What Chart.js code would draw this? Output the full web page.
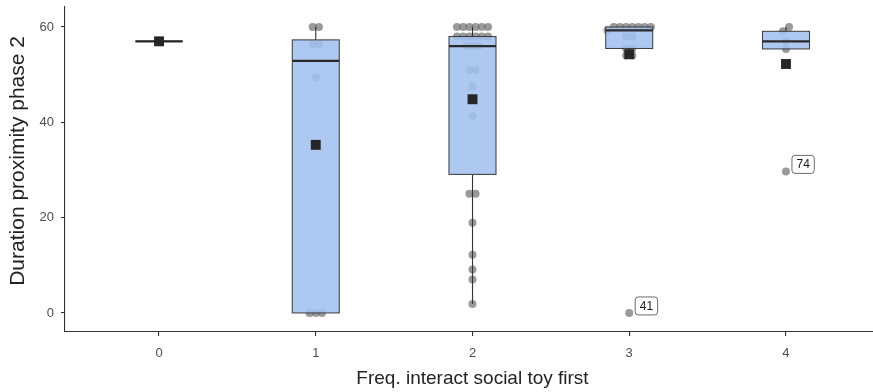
<!DOCTYPE html>
<html>
<head>
<meta charset="utf-8">
<script src="https://cdn.jsdelivr.net/npm/chart.js@4.4.1/dist/chart.umd.min.js"></script>
<style>
  html, body { margin: 0; padding: 0; background: #ffffff; overflow: hidden; }
  #wrap { position: relative; width: 873px; height: 392px; overflow: hidden; }
  #chart { position: absolute; left: 0; top: 0; }
</style>
</head>
<body>
<div id="wrap"><canvas id="chart" width="887" height="392"></canvas></div>
<script>
// Categories on the x axis
const categories = [0, 1, 2, 3, 4];

// Observations per category (duration proximity, phase 2)
const group0 = [57];
const group1 = [0, 0, 0, 49.4, 56.4, 56.4, 60, 60];
const group2 = [1.9, 7.0, 9.1, 12.2, 18.9, 25, 25, 41.3, 47.5, 51, 51, 56, 56, 56,
                58, 58, 58, 58, 58, 58, 60, 60, 60, 60, 60, 60];
const group3 = [0, 54, 54, 55.5, 55.5, 58, 58, 59.3, 60, 60, 60, 60, 60, 60, 60];
const group4 = [29.7, 55.4, 57, 59.1, 60];

// Tick labels
const xTicks = [0, 1, 2, 3, 4];
const yTicks = [0, 20, 40, 60];

// Labelled outliers
const labelCategories = [3, 4];
const labelValues = [0, 29.7];
const labelTexts = ['41', '74'];

const yTitle = 'Duration proximity phase 2';
const xTitle = 'Freq. interact social toy first';

const groups = [group0, group1, group2, group3, group4];

const FONT = '"Liberation Sans", Arial, Helvetica, sans-serif';
const BOX_HALF = 0.15;          // half box width, x units
const DOT_STEP = 6.2;           // horizontal spacing of stacked dots, px
const ROW_PX = 5;               // values closer than this (px) share a row

// type-7 quantile
function quantile(sorted, p) {
  const h = (sorted.length - 1) * p;
  const lo = Math.floor(h), hi = Math.ceil(h);
  return sorted[lo] + (h - lo) * (sorted[hi] - sorted[lo]);
}

function boxStats(values) {
  const s = values.slice().sort((a, b) => a - b);
  const q1 = quantile(s, 0.25), med = quantile(s, 0.5), q3 = quantile(s, 0.75);
  const iqr = q3 - q1;
  const inside = s.filter(v => v >= q1 - 1.5 * iqr && v <= q3 + 1.5 * iqr);
  const mean = s.reduce((a, b) => a + b, 0) / s.length;
  return { q1, med, q3, lo: inside[0], hi: inside[inside.length - 1], mean };
}

const stats = groups.map(boxStats);
const means = stats.map(s => s.mean);

// spread equal-ish values side by side, centred on the category
function swarm(values, pxPerX, pxPerY) {
  const idx = values.map((v, i) => i).sort((a, b) => values[a] - values[b]);
  const rows = [];
  let cur = null;
  idx.forEach(i => {
    if (cur && (values[i] - values[cur[0]]) * pxPerY < ROW_PX) cur.push(i);
    else { cur = [i]; rows.push(cur); }
  });
  const off = new Array(values.length).fill(0);
  rows.forEach(r => r.forEach((i, k) => {
    off[i] = (k - (r.length - 1) / 2) * DOT_STEP / pxPerX;
  }));
  return off;
}

function buildDots(pxPerX, pxPerY) {
  const pts = [];
  groups.forEach((g, gi) => {
    const off = swarm(g, pxPerX, pxPerY);
    g.forEach((v, i) => pts.push({ x: categories[gi] + off[i], y: v }));
  });
  return pts;
}

const boxPlugin = {
  id: 'boxes',
  afterDatasetDraw(chart, args) {
    if (args.index !== 1) return;
    const { ctx } = chart;
    const xs = chart.scales.x, ys = chart.scales.y;
    ctx.save();
    stats.forEach((st, i) => {
      const c = categories[i];
      const xc = xs.getPixelForValue(c);
      const xl = xs.getPixelForValue(c - BOX_HALF);
      const xr = xs.getPixelForValue(c + BOX_HALF);
      const yq1 = ys.getPixelForValue(st.q1);
      const yq3 = ys.getPixelForValue(st.q3);
      const ymed = ys.getPixelForValue(st.med);
      // whiskers
      ctx.strokeStyle = '#333333';
      ctx.lineWidth = 1.1;
      ctx.beginPath();
      ctx.moveTo(xc, yq3); ctx.lineTo(xc, ys.getPixelForValue(st.hi));
      ctx.moveTo(xc, yq1); ctx.lineTo(xc, ys.getPixelForValue(st.lo));
      ctx.stroke();
      // box
      ctx.fillStyle = 'rgba(162,192,239,0.88)';
      ctx.fillRect(xl, yq3, xr - xl, yq1 - yq3);
      ctx.strokeStyle = '#3a3a3a';
      ctx.lineWidth = 1;
      ctx.strokeRect(xl, yq3, xr - xl, yq1 - yq3);
      // median
      ctx.strokeStyle = '#2a2a2a';
      ctx.lineWidth = 2.3;
      ctx.beginPath();
      ctx.moveTo(xl, ymed); ctx.lineTo(xr, ymed);
      ctx.stroke();
    });
    ctx.restore();
  }
};

const labelPlugin = {
  id: 'outlierLabels',
  afterDatasetsDraw(chart) {
    const { ctx } = chart;
    const xs = chart.scales.x, ys = chart.scales.y;
    ctx.save();
    ctx.font = '12px ' + FONT;
    ctx.textAlign = 'center';
    ctx.textBaseline = 'middle';
    labelTexts.forEach((t, i) => {
      const px = xs.getPixelForValue(labelCategories[i]);
      const py = ys.getPixelForValue(labelValues[i]);
      const w = ctx.measureText(t).width + 9;
      const h = 18;
      const x0 = px + 6, y0 = py + 2 - h;
      ctx.beginPath();
      ctx.roundRect(x0, y0, w, h, 3);
      ctx.fillStyle = '#ffffff';
      ctx.fill();
      ctx.strokeStyle = '#5a5a5a';
      ctx.lineWidth = 0.9;
      ctx.stroke();
      ctx.fillStyle = '#1a1a1a';
      ctx.fillText(t, x0 + w / 2, y0 + h / 2 + 0.5);
    });
    ctx.restore();
  }
};

// vertical axis title, placed beside the y axis
const yTitlePlugin = {
  id: 'yTitle',
  afterDraw(chart) {
    const { ctx } = chart;
    const ys = chart.scales.y;
    ctx.save();
    ctx.translate(18, ys.getPixelForValue(31.9));
    ctx.rotate(-Math.PI / 2);
    ctx.font = '21px ' + FONT;
    ctx.fillStyle = '#222222';
    ctx.textAlign = 'center';
    ctx.textBaseline = 'middle';
    ctx.fillText(yTitle, 0, 0);
    ctx.restore();
  }
};

const axisGrid = { display: true, drawOnChartArea: false, drawTicks: true, tickLength: 4, color: '#333333', lineWidth: 1.1 };
const axisBorder = { display: true, color: '#333333', width: 1.1 };

const chart = new Chart(document.getElementById('chart'), {
  type: 'scatter',
  data: {
    datasets: [
      {
        label: 'mean',
        data: means.map((m, i) => ({ x: categories[i], y: m })),
        pointStyle: 'rect',
        pointRadius: 7,
        backgroundColor: '#262626',
        borderColor: '#262626',
        borderWidth: 0,
        order: 0
      },
      {
        label: 'observations',
        data: buildDots(157, 4.81),
        pointRadius: 4,
        backgroundColor: 'rgba(100,100,100,0.65)',
        borderWidth: 0,
        order: 2
      }
    ]
  },
  options: {
    responsive: false,
    animation: false,
    events: [],
    layout: { padding: { top: 3, right: 0, left: 0, bottom: 0 } },
    plugins: { legend: { display: false }, tooltip: { enabled: false } },
    scales: {
      x: {
        type: 'linear',
        min: -0.6,
        max: 4.6,
        afterBuildTicks: s => { s.ticks = xTicks.map(v => ({ value: v })); },
        afterFit: s => { s.height = 60; s.paddingLeft = 0; s.paddingRight = 0; },
        grid: axisGrid,
        border: axisBorder,
        ticks: { color: '#4d4d4d', font: { family: FONT, size: 13 }, padding: 10, maxRotation: 0 },
        title: { display: true, text: xTitle, color: '#222222',
                 font: { family: FONT, size: 19 }, padding: { top: 0, bottom: 2 } }
      },
      y: {
        type: 'linear',
        min: -4,
        max: 64.2,
        afterBuildTicks: s => { s.ticks = yTicks.map(v => ({ value: v })); },
        afterFit: s => { s.width = 65; s.paddingTop = 0; s.paddingBottom = 0; },
        grid: axisGrid,
        border: axisBorder,
        ticks: { color: '#4d4d4d', font: { family: FONT, size: 13 }, padding: 7 }
      }
    }
  },
  plugins: [boxPlugin, labelPlugin, yTitlePlugin]
});

// place stacked dots using the final pixel scale
const xs = chart.scales.x, ys = chart.scales.y;
const pxPerX = xs.getPixelForValue(1) - xs.getPixelForValue(0);
const pxPerY = ys.getPixelForValue(0) - ys.getPixelForValue(1);
chart.data.datasets[1].data = buildDots(pxPerX, pxPerY);
chart.update('none');
</script>
</body>
</html>
